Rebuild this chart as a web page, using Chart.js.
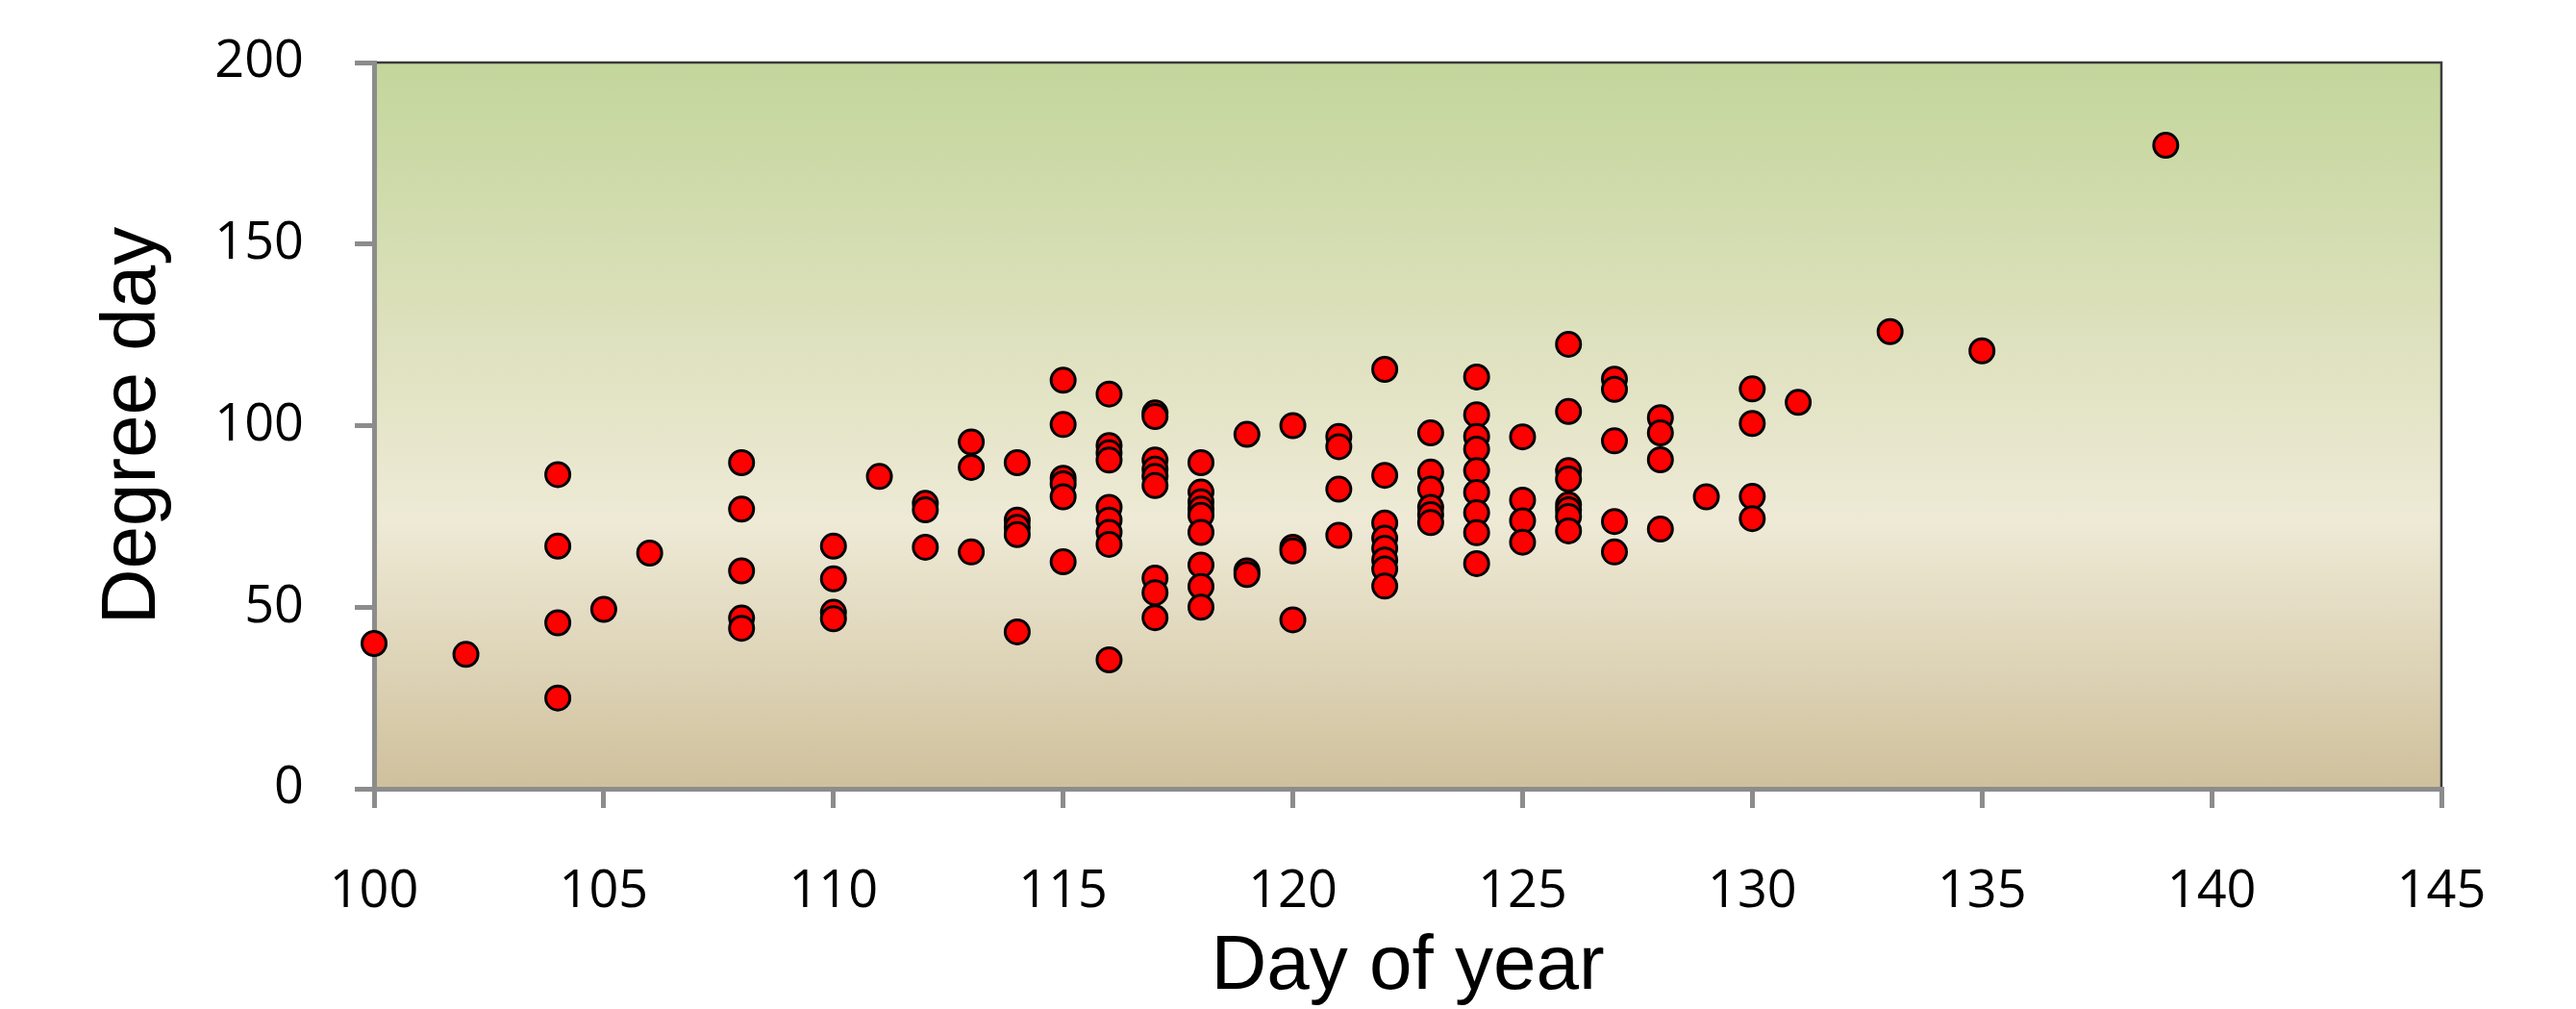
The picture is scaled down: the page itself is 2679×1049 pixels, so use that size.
<!DOCTYPE html>
<html>
<head>
<meta charset="utf-8">
<script src="https://cdn.jsdelivr.net/npm/chart.js@4.4.1/dist/chart.umd.min.js"></script>
<style>
  html, body { margin: 0; padding: 0; background: #fff; }
  #wrap { width: 2679px; height: 1049px; }
</style>
</head>
<body>
<div id="wrap"><canvas id="chart" width="2679" height="1049"></canvas></div>
<script>
const dayOfYear = [
  100, 102,
  104, 104, 104, 104,
  105, 106,
  108, 108, 108, 108, 108,
  110, 110, 110, 110,
  111,
  112, 112, 112,
  113, 113, 113,
  114, 114, 114, 114, 114,
  115, 115, 115, 115, 115, 115,
  116, 116, 116, 116, 116, 116, 116, 116, 116,
  117, 117, 117, 117, 117, 117, 117, 117, 117,
  118, 118, 118, 118, 118, 118, 118, 118, 118,
  119, 119, 119,
  120, 120, 120, 120,
  121, 121, 121, 121,
  122, 122, 122, 122, 122, 122, 122, 122,
  123, 123, 123, 123, 123, 123,
  124, 124, 124, 124, 124, 124, 124, 124, 124,
  125, 125, 125, 125,
  126, 126, 126, 126, 126, 126, 126, 126,
  127, 127, 127, 127, 127,
  128, 128, 128, 128,
  129,
  130, 130, 130, 130,
  131, 133, 135, 139
];
const degreeDay = [
  40, 37,
  86.5, 66.8, 45.7, 25,
  49.4, 64.9,
  89.8, 77, 60, 47, 44.2,
  66.8, 57.8, 48.6, 46.8,
  86,
  78.6, 76.8, 66.5,
  95.5, 88.5, 65.2,
  89.8, 74, 72, 70, 43.2,
  112.5, 100.3, 85.5, 84, 80.4, 62.5,
  108.7, 94.5, 92.5, 90.5, 77.5, 74, 70.6, 67.3, 35.5,
  103.5, 102.5, 90.5, 88, 86, 83.5, 58, 54, 47.1,
  89.8, 81.7, 79, 77, 75.3, 70.6, 61.6, 55.7, 50,
  97.6, 60, 59,
  100, 66.5, 65.5, 46.5,
  97, 94.2, 82.5, 69.8,
  115.5, 86.3, 73.2, 69, 66.2, 63, 60.5, 55.8,
  98, 87.2, 82.5, 77.5, 75.5, 73.3,
  113.4, 103, 97, 93.5, 87.6, 81.6, 76, 70.5, 62,
  96.9, 79.5, 73.8, 67.9,
  122.4, 103.9, 87.6, 85.3, 78.2, 76.8, 75, 71,
  112.8, 110, 95.8, 73.6, 65.2,
  102.2, 98, 90.6, 71.5,
  80.4,
  110.1, 100.6, 80.5, 74.4,
  106.4, 125.9, 120.6, 177.2
];
const xTicks = [100, 105, 110, 115, 120, 125, 130, 135, 140, 145];
const yTicks = [0, 50, 100, 150, 200];

const axisGrey = '#8c8c8c';

// gradient fill + dark top/right frame behind the points
const plotBackground = {
  id: 'plotBackground',
  beforeDraw(chart) {
    const { ctx, chartArea: a } = chart;
    const g = ctx.createLinearGradient(0, a.top, 0, a.bottom);
    g.addColorStop(0, '#c3d69b');
    g.addColorStop(0.35, '#dce0bb');
    g.addColorStop(0.63, '#eeead6');
    g.addColorStop(1, '#cfc09c');
    ctx.save();
    ctx.fillStyle = g;
    ctx.fillRect(a.left, a.top, a.right - a.left, a.bottom - a.top);
    ctx.strokeStyle = '#3a3a3a';
    ctx.lineWidth = 2.5;
    ctx.beginPath();
    ctx.moveTo(a.left, a.top);
    ctx.lineTo(a.right, a.top);
    ctx.lineTo(a.right, a.bottom);
    ctx.stroke();
    ctx.restore();
  }
};

const points = dayOfYear.map((d, i) => ({ x: d, y: degreeDay[i] }));

new Chart(document.getElementById('chart'), {
  type: 'scatter',
  data: {
    datasets: [{
      data: points,
      pointRadius: 12.5,
      pointHoverRadius: 12.5,
      pointBackgroundColor: '#ff0000',
      pointBorderColor: '#000000',
      pointBorderWidth: 3,
      clip: false
    }]
  },
  options: {
    responsive: false,
    animation: false,
    devicePixelRatio: 1,
    layout: { autoPadding: false, padding: { top: 65, right: 140, left: 0, bottom: 0 } },
    plugins: { legend: { display: false }, tooltip: { enabled: false } },
    scales: {
      x: {
        type: 'linear',
        min: 100,
        max: 145,
        afterFit: s => { s.height = 229; s.paddingLeft = 0; s.paddingRight = 0; },
        afterBuildTicks: s => { s.ticks = xTicks.map(v => ({ value: v })); },
        border: { display: true, color: axisGrey, width: 5 },
        grid: { drawOnChartArea: false, drawTicks: true, tickLength: 20, color: axisGrey, lineWidth: 5 },
        ticks: { color: '#000', padding: 55, font: { family: 'Open Sans', size: 54 }, maxRotation: 0 },
        title: {
          display: true,
          text: 'Day of year',
          color: '#000',
          font: { family: 'Liberation Sans', size: 80, lineHeight: 1 },
          padding: { top: 0, bottom: 3 }
        }
      },
      y: {
        type: 'linear',
        min: 0,
        max: 200,
        afterFit: s => { s.width = 389; s.paddingTop = 0; s.paddingBottom = 0; },
        afterBuildTicks: s => { s.ticks = yTicks.map(v => ({ value: v })); },
        border: { display: true, color: axisGrey, width: 5 },
        grid: { drawOnChartArea: false, drawTicks: true, tickLength: 20, color: axisGrey, lineWidth: 5 },
        ticks: { color: '#000', padding: 53, font: { family: 'Open Sans', size: 54 } },
        title: {
          display: true,
          text: 'Degree day',
          color: '#000',
          font: { family: 'Liberation Sans', size: 80, lineHeight: 1 },
          padding: { top: 99, bottom: 0 }
        }
      }
    }
  },
  plugins: [plotBackground]
});
</script>
</body>
</html>
